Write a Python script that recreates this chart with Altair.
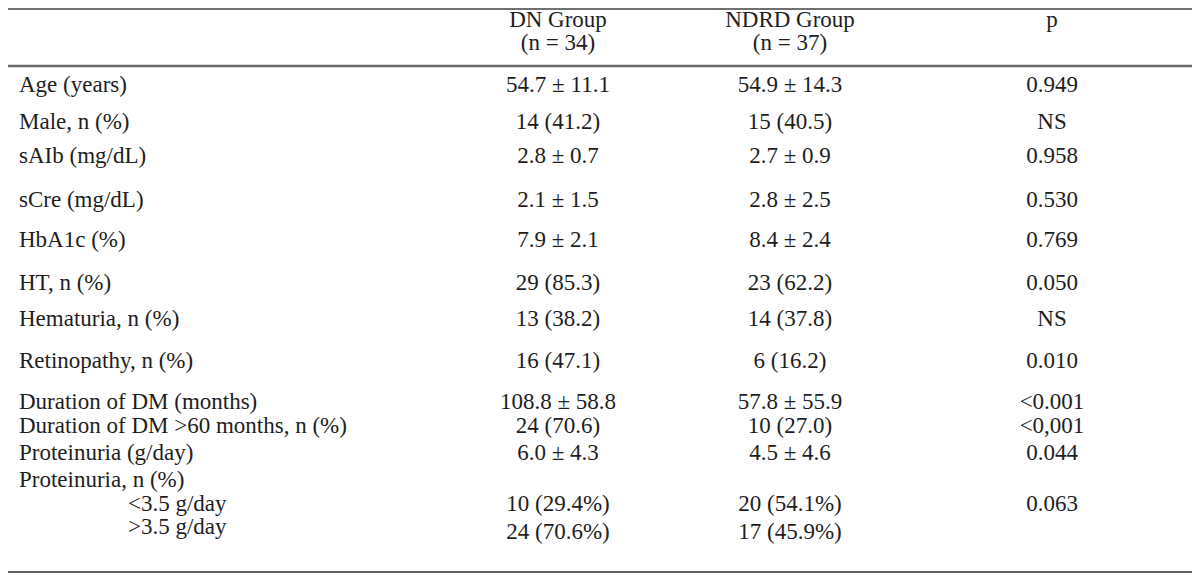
import altair as alt
import pandas as pd

# ---- table content ----
header_cols = ["DN Group", "NDRD Group", "p"]
header_sub = ["(n = 34)", "(n = 37)", ""]

labels = [
    "Age (years)", "Male, n (%)", "sAIb (mg/dL)", "sCre (mg/dL)", "HbA1c (%)",
    "HT, n (%)", "Hematuria, n (%)", "Retinopathy, n (%)",
    "Duration of DM (months)", "Duration of DM >60 months, n (%)",
    "Proteinuria (g/day)", "Proteinuria, n (%)", "<3.5 g/day", ">3.5 g/day",
]
indented = [False] * 12 + [True, True]

dn = ["54.7 ± 11.1", "14 (41.2)", "2.8 ± 0.7", "2.1 ± 1.5", "7.9 ± 2.1",
      "29 (85.3)", "13 (38.2)", "16 (47.1)", "108.8 ± 58.8", "24 (70.6)",
      "6.0 ± 4.3", "", "10 (29.4%)", "24 (70.6%)"]
ndrd = ["54.9 ± 14.3", "15 (40.5)", "2.7 ± 0.9", "2.8 ± 2.5", "8.4 ± 2.4",
        "23 (62.2)", "14 (37.8)", "6 (16.2)", "57.8 ± 55.9", "10 (27.0)",
        "4.5 ± 4.6", "", "20 (54.1%)", "17 (45.9%)"]
pvals = ["0.949", "NS", "0.958", "0.530", "0.769", "0.050", "NS", "0.010",
         "<0.001", "<0,001", "0.044", "", "0.063", ""]

# ---- layout (page pixel coordinates) ----
W, H = 1184, 569
OFF = 8
row_y = [85, 122, 156, 200, 240, 283, 319, 361, 402, 426, 453, 480, 504, 527]
value_y_adj = {13: 5}
col_x = [558, 790, 1052]
label_x, indent_x = 19, 128
head_y1, head_y2 = 20, 43

FONT = "Liberation Serif"
FS = 23
COLOR = "#1e1e1e"

xs = alt.Scale(domain=[OFF, OFF + W], range=[0, W])
ys = alt.Scale(domain=[OFF, OFF + H], range=[0, H])

lab_df = pd.DataFrame({
    "x": [indent_x if ind else label_x for ind in indented],
    "y": row_y,
    "text": labels,
})

val_rows = []
for ci, col in enumerate([dn, ndrd, pvals]):
    for ri, t in enumerate(col):
        if t:
            val_rows.append({"x": col_x[ci], "y": row_y[ri] + value_y_adj.get(ri, 0), "text": t})
for ci in range(3):
    val_rows.append({"x": col_x[ci], "y": head_y1, "text": header_cols[ci]})
    if header_sub[ci]:
        val_rows.append({"x": col_x[ci], "y": head_y2, "text": header_sub[ci]})
val_df = pd.DataFrame(val_rows)

lines_df = pd.DataFrame({
    "x": [OFF, OFF, OFF],
    "x2": [1193, 1193, 1193],
    "y": [9, 66, 572],
    "w": [1.8, 2.6, 1.6],
    "c": ["#707070", "#6a6a6a", "#2e2e2e"],
})

labels_layer = alt.Chart(lab_df).mark_text(
    align="left", baseline="middle", font=FONT, fontSize=FS, color=COLOR
).encode(
    x=alt.X("x:Q", scale=xs, axis=None),
    y=alt.Y("y:Q", scale=ys, axis=None),
    text="text:N",
)

values_layer = alt.Chart(val_df).mark_text(
    align="center", baseline="middle", font=FONT, fontSize=FS, color=COLOR
).encode(
    x=alt.X("x:Q", scale=xs, axis=None),
    y=alt.Y("y:Q", scale=ys, axis=None),
    text="text:N",
)

rules = alt.Chart(lines_df).mark_rule().encode(
    x=alt.X("x:Q", scale=xs, axis=None),
    x2="x2:Q",
    y=alt.Y("y:Q", scale=ys, axis=None),
    strokeWidth=alt.StrokeWidth("w:Q", scale=None, legend=None),
    color=alt.Color("c:N", scale=None, legend=None),
)

chart = alt.layer(rules, labels_layer, values_layer).properties(
    width=W, height=H, padding=0, autosize=alt.AutoSizeParams(type="none"),
    background="white",
).configure_view(stroke=None)

chart.save("out.html", embed_options={"renderer": "svg", "actions": False})
